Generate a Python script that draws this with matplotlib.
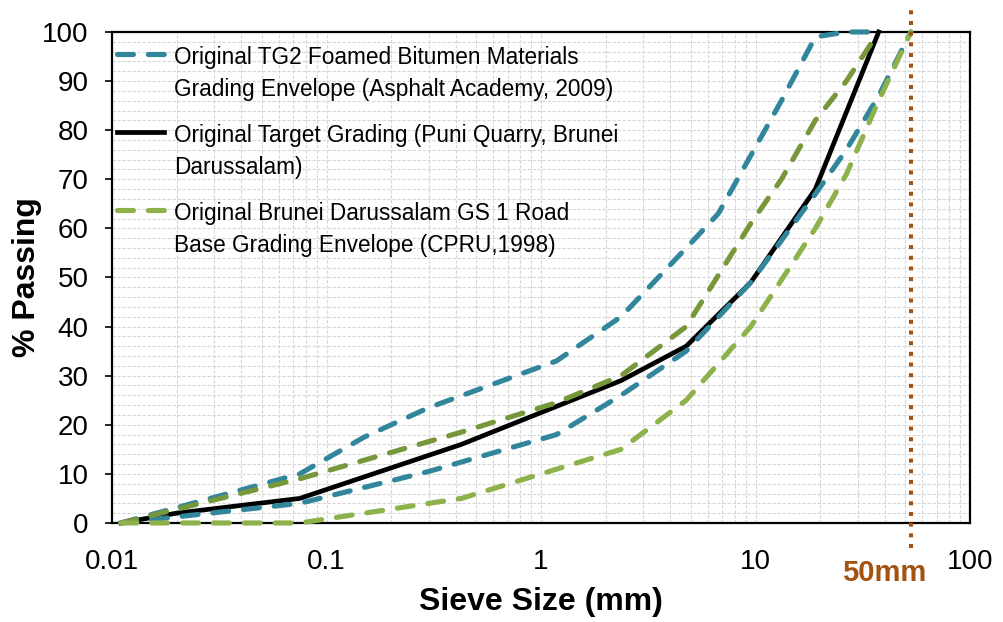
import matplotlib
matplotlib.use('Agg')
import matplotlib.pyplot as plt
from matplotlib import font_manager
from matplotlib.ticker import FuncFormatter, MultipleLocator, LogLocator, NullFormatter

# grading curves (sieve size mm, % passing)
tg2_upper_size = [0.011, 0.075, 0.15, 0.3, 1.18, 2.36, 4.75, 6.7, 13.2, 19, 26.5, 37.5]
tg2_upper = [0, 10, 17.5, 23.5, 33, 42, 56, 63, 86, 99, 100, 100]

tg2_lower_size = [0.011, 0.075, 0.3, 1.18, 2.36, 4.75, 9.5, 19, 26.5, 37.5, 53]
tg2_lower = [0, 4, 10.5, 18, 26, 35, 49, 67, 76, 87, 100]

target_size = [0.011, 0.02, 0.075, 0.425, 2.36, 4.75, 9.5, 19, 37.5]
target = [0, 2, 5, 16, 29, 36, 49, 68, 100]

gs1_upper_size = [0.011, 0.075, 0.425, 1.18, 2.36, 4.75, 9.5, 13.2, 19, 26.5, 37.5]
gs1_upper = [0, 9, 18.5, 24.5, 30, 40, 61, 70, 82, 90, 100]

gs1_lower_size = [0.011, 0.075, 0.425, 2.36, 4.75, 9.5, 19, 26.5, 37.5, 53]
gs1_lower = [0, 0, 5, 15, 25, 40, 60, 71, 86, 100]

max_size = 53  # the "50mm" marker line
x_ticks = [0.01, 0.1, 1, 10, 100]

labels = ["Original TG2 Foamed Bitumen Materials\nGrading Envelope (Asphalt Academy, 2009)",
          "Original Target Grading (Puni Quarry, Brunei\nDarussalam)",
          "Original Brunei Darussalam GS 1 Road\nBase Grading Envelope (CPRU,1998)"]

blue = '#31869c'
green_dark = '#76973a'
green_light = '#8db24c'
brown = '#a3520f'

plt.rcParams['font.family'] = ['Liberation Sans', 'DejaVu Sans']

# legend text in the original is condensed, use the narrow face if it is there
names = {f.name for f in font_manager.fontManager.ttflist}
if 'Liberation Sans Narrow' in names:
    leg_font = {'family': 'Liberation Sans Narrow', 'size': 18.5}
else:
    leg_font = {'family': 'Liberation Sans', 'size': 16.3}

fig = plt.figure(figsize=(10.04, 6.22), dpi=100)
ax = fig.add_axes([0.1116, 0.1592, 0.8546, 0.7894])

lw = 3.7
dash = (3.1, 2.9)

l_target, = ax.plot(target_size, target, color='black', lw=3.4, zorder=3,
                    clip_on=False, solid_joinstyle='round')
l_tg2, = ax.plot(tg2_upper_size, tg2_upper, color=blue, lw=lw, dashes=dash,
                 dash_capstyle='round', zorder=3.1, clip_on=False)
ax.plot(tg2_lower_size, tg2_lower, color=blue, lw=lw, dashes=dash,
        dash_capstyle='round', zorder=3.1, clip_on=False)
ax.plot(gs1_upper_size, gs1_upper, color=green_dark, lw=lw, dashes=dash,
        dash_capstyle='round', zorder=3.2, clip_on=False)
l_gs1, = ax.plot(gs1_lower_size, gs1_lower, color=green_light, lw=lw, dashes=dash,
                 dash_capstyle='round', zorder=3.2, clip_on=False)

ax.axvline(max_size, ymin=-0.05, ymax=1.05, color=brown, lw=2.9, ls=':',
           clip_on=False, zorder=4)
ax.annotate('50mm', xy=(max_size, 0), xycoords=ax.get_xaxis_transform(),
            xytext=(-19, -36), textcoords='offset points', ha='center', va='center',
            fontsize=21, fontweight='bold', color=brown)

ax.set_xscale('log')
ax.set_xlim(0.01, 100)
ax.set_ylim(0, 100)
ax.xaxis.set_major_locator(LogLocator(base=10))
ax.xaxis.set_minor_locator(LogLocator(base=10, subs=range(2, 10)))
ax.xaxis.set_minor_formatter(NullFormatter())
ax.set_xticks(x_ticks)
ax.xaxis.set_major_formatter(FuncFormatter(lambda v, p: '%g' % v))
ax.yaxis.set_major_locator(MultipleLocator(10))
ax.yaxis.set_minor_locator(MultipleLocator(2))

ax.tick_params(axis='x', which='both', length=0, pad=19, labelsize=20)
ax.tick_params(axis='y', which='major', direction='out', length=5, width=1.2,
               pad=12, labelsize=20)
ax.tick_params(axis='y', which='minor', length=0)

ax.grid(True, which='both', color='#d6d6d6', linestyle=(0, (3, 1.5)), linewidth=0.8)
ax.set_axisbelow(True)
for s in ax.spines.values():
    s.set_linewidth(1.6)

ax.set_xlabel('Sieve Size (mm)', fontsize=23, fontweight='bold')
ax.set_ylabel('% Passing', fontsize=23, fontweight='bold')
ax.xaxis.set_label_coords(0.5, -0.13)
ax.yaxis.set_label_coords(-0.082, 0.5)

leg = ax.legend([l_tg2, l_target, l_gs1], labels, loc='upper left',
                bbox_to_anchor=(0, 0.98), frameon=False, prop=leg_font,
                handlelength=2.1, handletextpad=0.45, labelspacing=1.0,
                borderaxespad=0.15, borderpad=0.05)
for t in leg.get_texts():
    t.set_linespacing(1.5)
# put the handle next to the first line of each two-line label
for col in leg._legend_handle_box.get_children():
    for row in col.get_children():
        row.align = 'top'

fig.savefig('out.png', dpi=100)
